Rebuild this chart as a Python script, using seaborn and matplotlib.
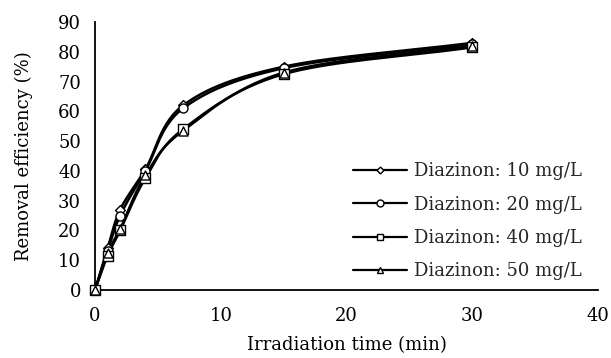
import numpy as np
import pandas as pd
import matplotlib
matplotlib.use("Agg")
import matplotlib.pyplot as plt
import seaborn as sns

time_min = [0, 1, 2, 4, 7, 15, 30]
eff_10 = [0, 14, 27, 40.5, 62, 75, 83]
eff_20 = [0, 13, 25, 40, 61, 74.5, 82.5]
eff_40 = [0, 11.5, 20, 37.5, 54, 72.5, 81.5]
eff_50 = [0, 12.5, 20.5, 38.5, 53.5, 73, 82]
labels = ["Diazinon: 10 mg/L", "Diazinon: 20 mg/L", "Diazinon: 40 mg/L", "Diazinon: 50 mg/L"]
markers = ["D", "o", "s", "^"]
msizes = [5, 6.5, 6.5, 6.5]

sns.set_theme(style="white")
plt.rcParams['font.family'] = ['DejaVu Serif']


def smooth(x, y, n=30):
    # Catmull-Rom style rendering of the line through the data points
    x = np.asarray(x, float); y = np.asarray(y, float)
    px = np.concatenate([[2 * x[0] - x[1]], x, [2 * x[-1] - x[-2]]])
    py = np.concatenate([[2 * y[0] - y[1]], y, [2 * y[-1] - y[-2]]])
    xs, ys = [], []
    for i in range(1, len(px) - 2):
        t = np.linspace(0, 1, n)
        p0, p1, p2, p3 = (np.array([px[j], py[j]]) for j in (i - 1, i, i + 1, i + 2))
        m1 = (p2 - p0) / 6.0
        m2 = (p3 - p1) / 6.0
        b0, b1, b2, b3 = p1, p1 + m1, p2 - m2, p2
        pts = ((1 - t) ** 3)[:, None] * b0 + (3 * (1 - t) ** 2 * t)[:, None] * b1 + \
              (3 * (1 - t) * t ** 2)[:, None] * b2 + (t ** 3)[:, None] * b3
        xs.extend(pts[:, 0]); ys.extend(pts[:, 1])
    return np.array(xs), np.array(ys)


fig = plt.figure(figsize=(6.11, 3.58), dpi=100)
ax = fig.add_axes([0.1555, 0.19, 0.8235, 0.7485])

series = [eff_10, eff_20, eff_40, eff_50]
handles = []
for s, lab, mk, ms in zip(series, labels, markers, msizes):
    sx, sy = smooth(time_min, s)
    ax.plot(sx, sy, color="black", lw=1.8, zorder=2, clip_on=False)
    df = pd.DataFrame({"t": time_min, "v": s})
    sns.scatterplot(data=df, x="t", y="v", marker=mk, s=ms ** 2, facecolor="white",
                    edgecolor="black", linewidth=1.0, ax=ax, zorder=3, clip_on=False)
    h, = ax.plot([], [], color="black", lw=1.6, marker=mk, ms=ms - 1.5, mfc="white", mec="black", mew=1.0)
    handles.append(h)

ax.set_xlim(0, 40)
ax.set_ylim(0, 90)
ax.set_xticks([0, 10, 20, 30, 40])
ax.set_yticks(range(0, 91, 10))
ax.spines['top'].set_visible(False)
ax.spines['right'].set_visible(False)
for sp in ['left', 'bottom']:
    ax.spines[sp].set_color('black')
    ax.spines[sp].set_linewidth(1.3)
ax.tick_params(axis='y', direction='out', length=6, width=1.3, colors='black', labelsize=13, pad=4)
ax.tick_params(axis='x', direction='in', length=6, width=1.3, colors='black', labelsize=13, pad=12)
ax.set_xlabel("Irradiation time (min)", fontsize=13, color="black", labelpad=8)
ax.set_ylabel("Removal efficiency (%)", fontsize=13, color="black", labelpad=18)
ax.grid(False)

leg = ax.legend(handles, labels, loc="lower right", bbox_to_anchor=(1.0, -0.025), frameon=False,
                fontsize=13, handlelength=3.0, labelspacing=0.85, handletextpad=0.4)

fig.savefig("out.png", dpi=100)
